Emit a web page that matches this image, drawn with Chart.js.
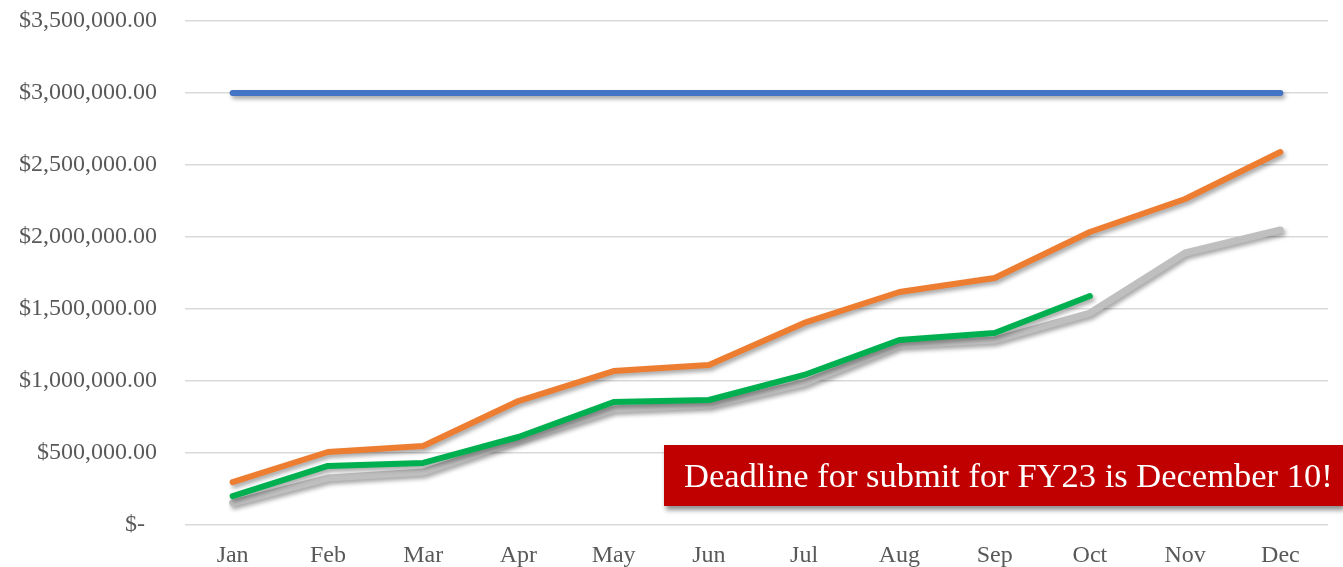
<!DOCTYPE html>
<html>
<head>
<meta charset="utf-8">
<script src="https://cdn.jsdelivr.net/npm/chart.js@4"></script>
<style>
	body { margin: 0; background: #fff; }
	#wrap { position: relative; width: 1343px; height: 567px; }
	#note {
		position: absolute; left: 664px; top: 445px; width: 679px; height: 61px;
		background: #C00000; color: #fff;
		font-family: "Liberation Serif", "Times New Roman", serif; font-size: 34.5px;
		line-height: 61px; padding-left: 20px; box-sizing: border-box; white-space: nowrap;
		box-shadow: 2px 4px 5px rgba(0, 0, 0, 0.45);
	}
</style>
</head>
<body>
<div id="wrap">
	<canvas id="chart"></canvas>
	<div id="note">Deadline for submit for FY23 is December 10!</div>
</div>
<script>
const months = ["Jan", "Feb", "Mar", "Apr", "May", "Jun", "Jul", "Aug", "Sep", "Oct", "Nov", "Dec"];
const goal = [3000000, 3000000, 3000000, 3000000, 3000000, 3000000, 3000000, 3000000, 3000000, 3000000, 3000000, 3000000];
const orangeSeries = [298000, 507000, 549000, 861000, 1069000, 1111000, 1403000, 1618000, 1715000, 2035000, 2264000, 2590000];
const graySeries = [153000, 326000, 368000, 590000, 806000, 833000, 986000, 1250000, 1285000, 1472000, 1889000, 2049000];
const greenSeries = [201000, 410000, 431000, 611000, 854000, 868000, 1042000, 1285000, 1333000, 1590000, null, null];
const yTicks = [0, 500000, 1000000, 1500000, 2000000, 2500000, 3000000, 3500000];

const serif = "'Liberation Serif', 'Times New Roman', serif";

function money(v) {
	if (v === 0) return "$-  ";
	return "$" + v.toLocaleString("en-US", { minimumFractionDigits: 2, maximumFractionDigits: 2 });
}

const lineShadow = {
	id: "lineShadow",
	beforeDatasetsDraw(chart) {
		const ctx = chart.ctx;
		ctx.save();
		ctx.shadowColor = "rgba(0, 0, 0, 0.35)";
		ctx.shadowBlur = 4;
		ctx.shadowOffsetX = 2;
		ctx.shadowOffsetY = 3;
	},
	afterDatasetsDraw(chart) {
		chart.ctx.restore();
	}
};

function line(data, color, width) {
	return {
		data,
		borderColor: color,
		backgroundColor: color,
		borderWidth: width,
		pointRadius: 0,
		tension: 0,
		borderCapStyle: "round",
		borderJoinStyle: "round",
		spanGaps: false
	};
}

const config = {
	type: "line",
	data: {
		labels: months,
		datasets: [
			line(greenSeries, "#00B050", 6),
			line(orangeSeries, "#ED7D31", 6),
			line(graySeries, "#BFBFBF", 7),
			line(goal, "#4472C4", 6),
		],
	},
	options: {
		responsive: true,
		maintainAspectRatio: false,
		animation: false,
		layout: { padding: { top: 21, right: 15, bottom: 0, left: 0 } },
		plugins: { legend: { display: false }, tooltip: { enabled: false } },
		scales: {
			x: {
				offset: true,
				grid: { display: false, drawTicks: false },
				border: { display: false },
				ticks: { color: "#595959", font: { family: serif, size: 24 }, padding: 16 },
				afterFit(scale) { scale.height = 42; scale.paddingLeft = 0; scale.paddingRight = 0; }
			},
			y: {
				min: 0,
				max: 3500000,
				afterBuildTicks(scale) { scale.ticks = yTicks.map(v => ({ value: v })); },
				grid: { color: "#D9D9D9", lineWidth: 1.5, drawTicks: false },
				border: { display: false },
				ticks: { color: "#595959", font: { family: serif, size: 24 }, padding: 28, callback: money },
				afterFit(scale) { scale.width = 185; scale.paddingTop = 0; scale.paddingBottom = 0; }
			}
		}
	},
	plugins: [lineShadow]
};

const chart = new Chart(document.getElementById("chart"), config);
</script>
</body>
</html>
